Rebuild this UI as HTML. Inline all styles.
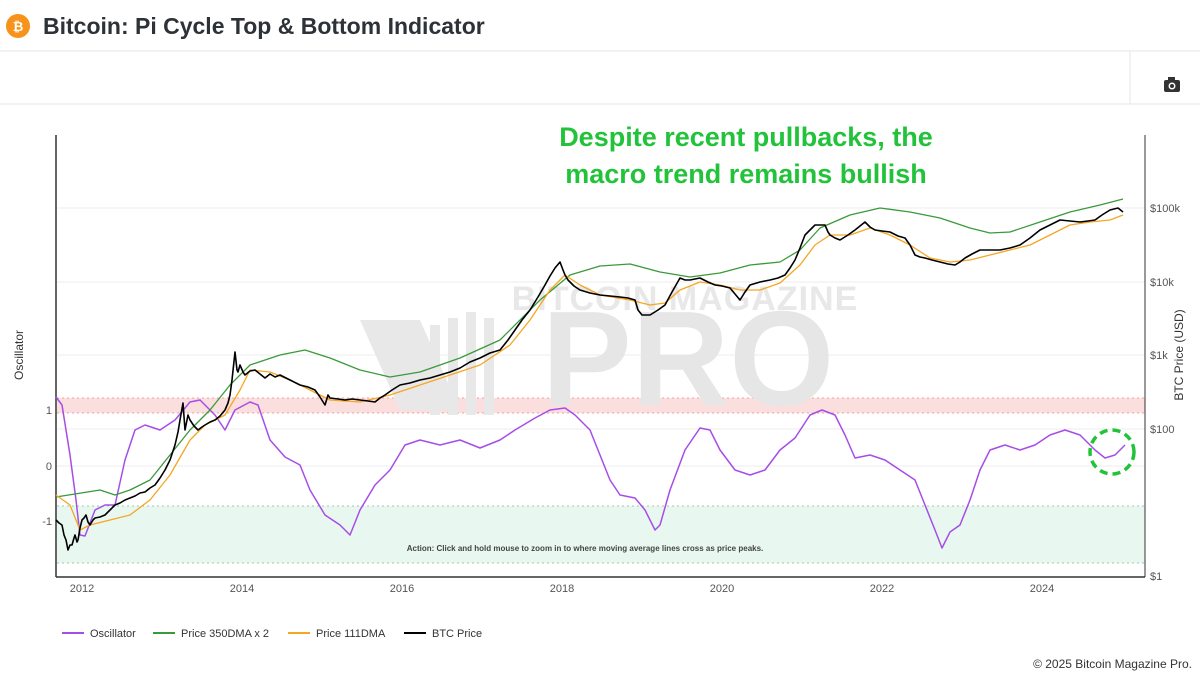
<!DOCTYPE html>
<html><head><meta charset="utf-8"><style>
body{margin:0;width:1200px;height:675px;background:#fff;font-family:"Liberation Sans",sans-serif;overflow:hidden;position:relative}
</style></head><body>
<svg width="1200" height="675" style="position:absolute;left:0;top:0" font-family="Liberation Sans, sans-serif">
<circle cx="18" cy="26" r="12" fill="#f7931a"/>
<text x="18" y="31" font-size="13" font-weight="bold" fill="#fff" text-anchor="middle">₿</text>
<text x="43" y="34" font-size="23" font-weight="bold" fill="#2d3238">Bitcoin: Pi Cycle Top &amp; Bottom Indicator</text>
<line x1="0" y1="51" x2="1200" y2="51" stroke="#e6e6e6"/>
<line x1="0" y1="104" x2="1200" y2="104" stroke="#e6e6e6"/>
<line x1="1130" y1="51" x2="1130" y2="104" stroke="#e6e6e6"/>
<rect x="1164" y="80" width="16" height="12" rx="2" fill="#333"/><rect x="1168" y="77" width="7" height="4" fill="#333"/><circle cx="1172" cy="86" r="3.5" fill="#fff"/><circle cx="1172" cy="86" r="2" fill="#333"/>
<!-- bands -->
<rect x="57" y="398" width="1088" height="15" fill="#fbdede"/>
<line x1="57" y1="398" x2="1145" y2="398" stroke="#f0a0a0" stroke-dasharray="2,3"/>
<line x1="57" y1="413" x2="1145" y2="413" stroke="#f0a0a0" stroke-dasharray="2,3"/>
<rect x="57" y="506" width="1088" height="57" fill="#e8f8f0"/>
<line x1="57" y1="506" x2="1145" y2="506" stroke="#a0c8a8" stroke-dasharray="2,3"/>
<line x1="57" y1="563" x2="1145" y2="563" stroke="#a0c8a8" stroke-dasharray="2,3"/>
<g stroke="#eeeeee"><line x1="57" y1="208" x2="1145" y2="208"/><line x1="57" y1="282" x2="1145" y2="282"/><line x1="57" y1="355" x2="1145" y2="355"/><line x1="57" y1="429" x2="1145" y2="429"/><line x1="57" y1="466" x2="1145" y2="466"/></g>
<!-- watermark -->
<text x="685" y="310" font-size="34" font-weight="bold" fill="#e8e8e8" text-anchor="middle" letter-spacing="1">BITCOIN MAGAZINE</text>
<text x="688" y="405" font-size="135" font-weight="bold" fill="#e6e6e6" text-anchor="middle">PRO</text>
<g fill="#e8e8e8"><polygon points="360,320 420,320 460,410 400,410"/><rect x="430" y="325" width="10" height="90"/><rect x="448" y="318" width="10" height="97"/><rect x="466" y="312" width="10" height="103"/><rect x="484" y="318" width="10" height="97"/></g>
<!-- axes -->
<line x1="56" y1="135" x2="56" y2="577" stroke="#333" stroke-width="1.5"/>
<line x1="56" y1="577" x2="1145" y2="577" stroke="#333" stroke-width="1.5"/>
<line x1="1145" y1="135" x2="1145" y2="577" stroke="#333"/>
<g font-size="11" fill="#555" text-anchor="middle">
<text x="82" y="592">2012</text><text x="242" y="592">2014</text><text x="402" y="592">2016</text><text x="562" y="592">2018</text><text x="722" y="592">2020</text><text x="882" y="592">2022</text><text x="1042" y="592">2024</text></g>
<g font-size="11" fill="#555"><text x="1150" y="212">$100k</text><text x="1150" y="286">$10k</text><text x="1150" y="359">$1k</text><text x="1150" y="433">$100</text><text x="1150" y="580">$1</text></g>
<g font-size="11" fill="#555" text-anchor="end"><text x="52" y="414">1</text><text x="52" y="470">0</text><text x="52" y="525">-1</text></g>
<text transform="translate(23,355) rotate(-90)" font-size="12" fill="#333" text-anchor="middle">Oscillator</text>
<text transform="translate(1183,355) rotate(-90)" font-size="12" fill="#333" text-anchor="middle">BTC Price (USD)</text>
<text x="585" y="551" font-size="8" font-weight="bold" fill="#444" text-anchor="middle">Action: Click and hold mouse to zoom in to where moving average lines cross as price peaks.</text>
<g fill="none" stroke-linejoin="round">
<polyline stroke="#a64de8" stroke-width="1.5" points="56,397 62,405 70,455 76,500 80,535 85,536 95,510 105,505 115,505 125,460 135,430 145,425 160,430 175,420 190,402 200,400 215,415 225,430 235,410 250,402 258,405 270,440 285,457 300,465 310,490 325,515 340,525 350,535 360,510 375,485 390,470 405,445 420,440 440,445 460,440 480,448 500,440 515,430 535,418 550,410 565,408 575,415 590,430 600,455 610,480 620,495 635,498 645,510 655,530 660,525 670,490 685,450 700,428 710,430 720,450 735,470 750,475 765,470 780,450 795,438 810,415 822,410 835,415 845,435 855,458 870,455 885,460 900,470 915,480 925,505 935,530 942,548 950,532 960,525 970,500 980,470 990,450 1005,445 1020,450 1035,445 1050,435 1065,430 1080,435 1095,450 1105,458 1115,455 1125,445"/>
<polyline stroke="#3a9a3a" stroke-width="1.3" points="56,497 100,490 115,495 130,490 150,480 170,455 190,430 210,410 230,385 250,365 280,355 305,350 330,358 360,370 390,377 420,372 460,358 500,340 540,300 570,275 600,266 630,264 660,272 690,277 720,273 750,265 780,262 800,250 820,228 850,215 880,208 910,212 940,218 970,228 990,233 1010,232 1040,222 1070,212 1100,205 1123,199"/>
<polyline stroke="#f5a623" stroke-width="1.3" points="56,495 70,505 80,530 90,525 110,520 130,515 150,500 170,475 190,440 205,425 225,415 240,390 250,370 270,372 290,380 310,390 330,400 360,402 390,395 420,385 450,375 480,365 510,345 530,320 550,290 565,275 580,285 600,295 630,300 650,305 665,303 680,290 700,282 720,285 740,290 760,290 780,283 800,265 815,245 830,235 850,235 870,228 890,235 910,245 930,258 950,262 970,260 990,255 1010,250 1030,245 1050,235 1070,225 1090,222 1110,220 1123,215"/>
<polyline stroke="#000" stroke-width="1.6" points="56,520 59,523 62,525 64,535 66,540 68,550 70,545 72,545 74,538 75,535 77,542 78,540 80,528 82,520 84,518 86,515 88,522 90,525 93,520 95,518 100,517 105,515 110,510 115,505 120,503 125,500 130,498 135,496 140,493 145,492 150,488 155,485 160,478 165,470 170,460 175,445 178,432 180,420 183,403 185,430 188,415 190,420 194,426 198,430 202,427 205,425 210,422 215,420 220,416 225,410 228,403 230,395 232,380 235,352 237,370 238,372 240,365 243,372 245,375 250,371 255,370 260,374 265,378 270,374 275,377 280,375 290,380 300,385 308,387 315,390 320,397 325,405 328,395 330,398 338,399 345,400 352,399 360,400 368,401 375,402 380,398 385,395 392,390 400,385 410,383 420,380 430,378 440,375 450,372 460,368 470,362 480,358 490,353 500,350 508,340 515,330 522,320 530,310 538,297 545,285 550,276 555,268 560,262 563,270 565,275 568,280 574,286 580,290 590,293 600,295 610,296 620,297 628,298 635,300 638,310 642,315 646,315 650,315 658,310 665,305 672,292 680,278 685,280 690,280 695,279 700,278 708,282 715,285 722,286 730,288 735,294 740,300 745,292 750,285 760,282 770,280 778,278 785,275 790,268 795,260 800,248 805,235 810,230 815,225 820,225 825,225 828,232 830,235 835,238 840,240 848,235 855,230 860,226 865,222 870,227 875,230 882,231 890,232 898,236 905,238 910,245 915,255 920,257 925,258 932,260 940,262 948,264 955,265 960,262 965,258 972,254 980,250 990,250 1000,250 1010,248 1020,245 1030,238 1040,230 1050,225 1060,220 1070,221 1080,222 1088,221 1095,220 1102,215 1110,210 1114,209 1118,208 1123,212"/>
</g>
<circle cx="1112" cy="452" r="22" fill="none" stroke="#22c33a" stroke-width="3.5" stroke-dasharray="8,5"/>
<text x="746" y="146" font-size="27" font-weight="bold" fill="#22c33a" text-anchor="middle">Despite recent pullbacks, the</text>
<text x="746" y="183" font-size="27" font-weight="bold" fill="#22c33a" text-anchor="middle">macro trend remains bullish</text>
<!-- legend -->
<g font-size="11" fill="#333">
<line x1="62" y1="633" x2="84" y2="633" stroke="#a64de8" stroke-width="2"/><text x="90" y="637">Oscillator</text>
<line x1="153" y1="633" x2="175" y2="633" stroke="#3a9a3a" stroke-width="2"/><text x="181" y="637">Price 350DMA x 2</text>
<line x1="288" y1="633" x2="310" y2="633" stroke="#f5a623" stroke-width="2"/><text x="316" y="637">Price 111DMA</text>
<line x1="404" y1="633" x2="426" y2="633" stroke="#000" stroke-width="2"/><text x="432" y="637">BTC Price</text>
</g>
<text x="1192" y="668" font-size="12" fill="#333" text-anchor="end">© 2025 Bitcoin Magazine Pro.</text>
</svg>
</body></html>
